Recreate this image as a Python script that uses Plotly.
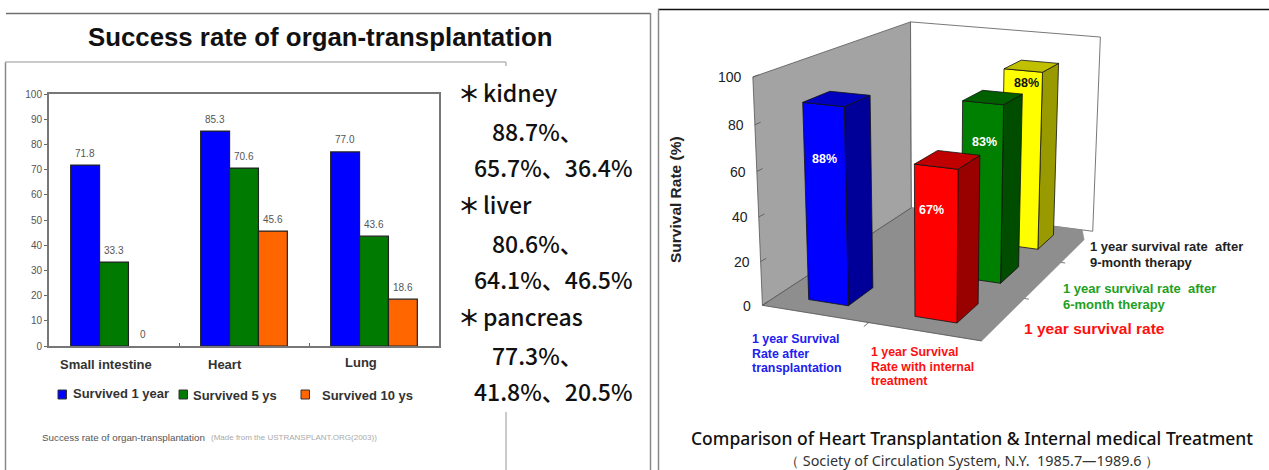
import numpy as np
import plotly.graph_objects as go

W, H = 1269, 470

# ---------- left chart data ----------
organs = ["Small intestine", "Heart", "Lung"]
survived_1y = [71.8, 85.3, 77.0]
survived_5y = [33.3, 70.6, 43.6]
survived_10y = [0, 45.6, 18.6]
label_10y = ["0", "45.6", "18.6"]
series_names = ["Survived 1 year", "Survived 5 ys", "Survived 10 ys"]
y_ticks = [0, 10, 20, 30, 40, 50, 60, 70, 80, 90, 100]

# ---------- right chart data ----------
bar3d_names = ["1 year Survival Rate after transplantation",
               "1 year Survival Rate with internal treatment",
               "1 year survival rate after 6-month therapy",
               "1 year survival rate after 9-month therapy"]
bar3d_col = [0, 1, 1, 1]
bar3d_row = [0, 0, 1, 2]
bar3d_values = [88, 67, 83, 88]
bar3d_ticks = [0, 20, 40, 60, 80, 100]

BLUE, GREEN, ORANGE = "#0000FF", "#007A00", "#FF6600"
fig = go.Figure()

# ---------- left bars ----------
for name, vals, col in zip(series_names, [survived_1y, survived_5y, survived_10y], [BLUE, GREEN, ORANGE]):
    fig.add_bar(x=list(range(len(organs))), y=vals, name=name,
                marker=dict(color=col, line=dict(color="#222", width=[1.2 if v > 0 else 0 for v in vals])),
                xaxis="x", yaxis="y", showlegend=False)

ann = []
def note(x, y, text, size, color="#222", bold=False, font="Liberation Sans", anchor="center", rot=0, weight=None):
    t = f"<b>{text}</b>" if bold else text
    f = dict(size=size, color=color, family=font)
    if weight:
        f["weight"] = weight
    ann.append(dict(x=x / W, y=1 - y / H, xref="paper", yref="paper", text=t, showarrow=False,
                    xanchor=anchor, yanchor="middle", textangle=rot, align="left",
                    xshift={"left": -2, "right": 2, "center": 0}[anchor], font=f))

bw = 1 / 4.5
for s, (vals, txt) in enumerate(zip([survived_1y, survived_5y, survived_10y],
                                    [[f"{v:.1f}" for v in survived_1y],
                                     [f"{v:.1f}" for v in survived_5y], label_10y])):
    for i, (v, t) in enumerate(zip(vals, txt)):
        ann.append(dict(x=i + (s - 1) * bw, y=v, xref="x", yref="y", text=t, showarrow=False, yshift=12,
                        font=dict(size=10, color="#555", family="Liberation Sans")))

shapes = []
def frame(x0, y0, x1, y1, color="#8a8a8a", width=1.5):
    shapes.append(dict(type="line", xref="paper", yref="paper", x0=x0 / W, x1=x1 / W,
                       y0=1 - y0 / H, y1=1 - y1 / H, line=dict(color=color, width=width)))

frame(6, 13.5, 650, 13.5, "#707070", 1.5)
frame(650.5, 13, 650.5, 470)
frame(5.5, 62, 5.5, 470)
frame(5, 62, 506, 62, "#b8b8b8")
frame(506, 62, 506, 66, "#b8b8b8")
frame(506, 412, 506, 470, "#b8b8b8")
frame(658, 9.5, 1269, 9.5, "#111", 1.5)
frame(658.5, 9, 658.5, 470)

# left texts
note(320.5, 37, "Success rate of organ-transplantation", 25.8, "#111", True)
for x, y, t in zip([106, 225, 361], [364, 364, 362], organs):
    note(x, y, t, 13, "#333", True)
for sx, tx, y, t, col in zip([62, 183, 305], [73, 193, 322], [393, 395, 395], series_names, [BLUE, GREEN, ORANGE]):
    note(tx, y, t, 13, "#333", True, anchor="left")
    shapes.append(dict(type="rect", xref="paper", yref="paper", x0=(sx - 4) / W, x1=(sx + 4.5) / W,
                       y0=1 - 399 / H, y1=1 - 390 / H, fillcolor=col, line=dict(color="#333", width=1)))
note(42, 437, "Success rate of organ-transplantation", 9.8, "#555", anchor="left")
note(211, 437, "(Made from the USTRANSPLANT.ORG(2003))", 8, "#aaa", anchor="left")

CJK = "Noto Sans CJK JP"
head_y = [92, 204, 316]
head_t = ["kidney", "liver", "pancreas"]
for y, t in zip(head_y, head_t):
    note(458, y, "＊", 22, "#111", True, font=CJK, anchor="left")
    note(483, y, t, 23, "#111", font=CJK, anchor="left", weight=500)
val_x = [492, 474, 492, 474, 492, 474]
val_y = [131, 167, 243, 279, 355, 391]
val_t = ["88.7%、", "65.7%、36.4%", "80.6%、", "64.1%、46.5%", "77.3%、", "41.8%、20.5%"]
for x, y, t in zip(val_x, val_y, val_t):
    note(x, y, t, 23, "#111", font=CJK, anchor="left", weight=500)

# ---------- pseudo-3D: one perspective camera matrix fitted to the box edges ----------
box_world = np.array([[0, 0, 0], [1, 0, 0], [1, 1, 0], [0, 1, 0], [0, 0, 1], [1, 1, 1], [0, 1, 1],
                      [0, 0, .2], [0, 0, .4], [0, 0, .6], [0, 0, .8]], float)
box_pixel = np.array([[762, 305], [983, 340], [1092, 233], [912, 207], [753, 77.7], [1100, 36], [911, 22],
                      [760, 261.7], [758.5, 216.7], [756.5, 171.7], [755, 125]], float)
A, b = [], []
for (u, w, h), (x, y) in zip(box_world, box_pixel):
    A.append([u, w, h, 1, 0, 0, 0, 0, -u * x, -w * x, -h * x]); b.append(x)
    A.append([0, 0, 0, 0, u, w, h, 1, -u * y, -w * y, -h * y]); b.append(y)
P = np.append(np.linalg.lstsq(np.array(A), np.array(b), rcond=None)[0], 1).reshape(3, 4)

def proj(u, w, v):
    p = P @ np.array([u, w, v / 100.0, 1.0])
    return p[:2] / p[2]

def poly(pts, fill, line="#111", lw=0.8):
    pts = list(pts) + [pts[0]]
    fig.add_scatter(x=[p[0] for p in pts], y=[p[1] for p in pts], mode="lines", fill="toself",
                    fillcolor=fill, line=dict(color=line, width=lw), xaxis="x2", yaxis="y2",
                    showlegend=False, hoverinfo="skip")

def seg(a, b, color="#555", lw=0.8):
    fig.add_scatter(x=[a[0], b[0]], y=[a[1], b[1]], mode="lines", line=dict(color=color, width=lw),
                    xaxis="x2", yaxis="y2", showlegend=False, hoverinfo="skip")

# walls and floor (the floor's far right corner is cut off in the original)
poly([proj(0, 0, 0), proj(0, 1, 0), proj(0, 1, 100), proj(0, 0, 100)], "#A3A3A3", "#555", 0.8)
poly([proj(0, 1, 0), proj(1, 1, 0), proj(1, 1, 100), proj(0, 1, 100)], "#FFFFFF", "#555", 0.8)
poly([proj(0, 0, 0), proj(1, 0, 0), proj(1, 0.905, 0), proj(0.945, 1, 0), proj(0, 1, 0)], "#8E8E8E", "#8E8E8E", 0.5)
seg(proj(0, 0, 0), proj(1, 0, 0))
seg(proj(0, 0, 0), proj(0, 1, 0))

# axis ticks
for t in bar3d_ticks:
    a = proj(0, 0, t)
    seg(a, proj(0, 0.03, t))
    note(a[0] - 11, a[1] + 0.5, str(t), 14, "#222", anchor="right")
seg(proj(0.5, 0, 0), proj(0.5, -0.03, 0))
for w in (1 / 3, 2 / 3):
    seg(proj(1, w, 0), proj(1.02, w, 0))

# bars
faces = {0: ("#0000FF", "#0000C0", "#000099", "#FFFFFF"),
         1: ("#FF0000", "#C00000", "#990000", "#FFFFFF"),
         2: ("#008000", "#006000", "#004D00", "#FFFFFF"),
         3: ("#FFFF00", "#C0C000", "#999900", "#111111")}
u_w, w_w = 0.19, 0.155
order = sorted(range(4), key=lambda i: -bar3d_row[i])
for i in order:
    c, r, v = bar3d_col[i], bar3d_row[i], bar3d_values[i]
    u0 = 0.25 + 0.5 * c - u_w / 2 - 0.008
    u1 = u0 + u_w
    w0 = (r + 0.5) / 3 - w_w / 2
    w1 = w0 + w_w
    front, topc, side, txt = faces[i]
    poly([proj(u1, w0, 0), proj(u1, w1, 0), proj(u1, w1, v), proj(u1, w0, v)], side)
    poly([proj(u0, w0, 0), proj(u1, w0, 0), proj(u1, w0, v), proj(u0, w0, v)], front)
    poly([proj(u0, w0, v), proj(u1, w0, v), proj(u1, w1, v), proj(u0, w1, v)], topc)

# value labels
for i, (x, y) in enumerate(zip([824, 932, 984, 1026], [159, 210, 142, 83])):
    note(x, y, f"{bar3d_values[i]}%", 12.5, faces[i][3], True)

# right texts
note(676, 200, "Survival Rate (%)", 15.5, "#222", True, rot=-90)
note(1090, 246, "1 year survival rate&nbsp; after", 13, "#222", True, anchor="left")
note(1090, 262, "9-month therapy", 13, "#222", True, anchor="left")
note(1063, 288, "1 year survival rate&nbsp; after", 13, "#22A022", True, anchor="left")
note(1063, 304, "6-month therapy", 13, "#22A022", True, anchor="left")
note(1024, 328, "1 year survival rate", 15.5, "#FF1010", True, anchor="left")
for y, t in zip([339, 354, 368], ["1 year Survival", "Rate after", "transplantation"]):
    note(752, y, t, 12.4, "#2020F0", True, anchor="left")
for y, t in zip([352, 367, 381], ["1 year Survival", "Rate with internal", "treatment"]):
    note(871, y, t, 12.4, "#FF1010", True, anchor="left")
note(972, 438, "Comparison of Heart Transplantation &amp; Internal medical Treatment", 17.5, "#111", font="Noto Sans", weight=500)
note(972, 460, "（ Society of Circulation System, N.Y.&nbsp; 1985.7—1989.6 ）", 14.4, "#333", font="Noto Sans")

fig.update_layout(
    width=W, height=H, autosize=False, margin=dict(l=0, r=0, t=0, b=0, pad=0), template="none",
    paper_bgcolor="white", plot_bgcolor="white", barmode="group", bargap=1 / 3, bargroupgap=0,
    showlegend=False, shapes=shapes, annotations=ann,
    xaxis=dict(domain=[49 / W, 439 / W], range=[-0.5, 2.5], type="linear", tickvals=[0.5, 1.5],
               ticks="inside", ticklen=3, tickcolor="#666", showticklabels=False, showgrid=False, automargin=False,
               showline=True, linecolor="#777", linewidth=2, mirror=True, zeroline=False),
    yaxis=dict(domain=[1 - 346 / H, 1 - 94 / H], range=[0, 100], tickvals=y_ticks, ticks="outside", ticklen=3,
               tickcolor="#666", tickfont=dict(size=10, color="#555", family="Liberation Sans"), showgrid=False,
               automargin=False, showline=True, linecolor="#777", linewidth=2, mirror=True, zeroline=False),
    xaxis2=dict(domain=[660 / W, 1], range=[660, W], visible=False, anchor="y2", automargin=False),
    yaxis2=dict(domain=[0, 1], range=[H, 0], visible=False, anchor="x2", automargin=False),
)

fig.write_html("out.html", config={"displayModeBar": False},
               post_script="document.documentElement.style.overflow='hidden';document.body.style.margin='0';")
